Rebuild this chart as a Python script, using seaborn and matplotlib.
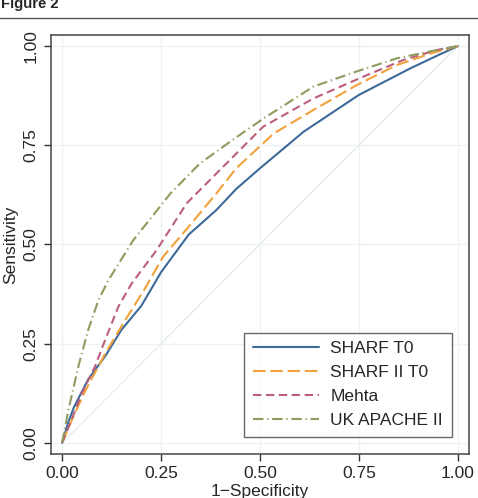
import pandas as pd
import matplotlib.pyplot as plt
import seaborn as sns

# ROC curves
models = ["SHARF T0", "SHARF II T0", "Mehta", "UK APACHE II"]

sharf_x = [0, 0.015, 0.03, 0.066, 0.11, 0.15, 0.20, 0.25, 0.32, 0.39, 0.44, 0.50, 0.61, 0.75, 0.88, 0.95, 1.0]
sharf_y = [0, 0.05, 0.09, 0.16, 0.22, 0.285, 0.345, 0.43, 0.525, 0.587, 0.64, 0.692, 0.784, 0.877, 0.944, 0.977, 1.0]

sharf2_x = [0, 0.03, 0.06, 0.11, 0.16, 0.21, 0.255, 0.32, 0.39, 0.44, 0.535, 0.635, 0.745, 0.845, 0.93, 1.0]
sharf2_y = [0, 0.07, 0.134, 0.227, 0.31, 0.39, 0.469, 0.545, 0.629, 0.692, 0.78, 0.839, 0.902, 0.952, 0.981, 1.0]

mehta_x = [0, 0.024, 0.05, 0.083, 0.109, 0.142, 0.176, 0.239, 0.315, 0.39, 0.433, 0.508, 0.635, 0.761, 0.862, 0.946, 1.0]
mehta_y = [0, 0.058, 0.125, 0.192, 0.26, 0.343, 0.402, 0.486, 0.604, 0.679, 0.722, 0.797, 0.868, 0.923, 0.965, 0.99, 1.0]

apache_x = [0, 0.016, 0.041, 0.066, 0.092, 0.117, 0.18, 0.247, 0.275, 0.348, 0.43, 0.508, 0.635, 0.744, 0.845, 0.946, 1.0]
apache_y = [0, 0.083, 0.192, 0.285, 0.36, 0.41, 0.511, 0.595, 0.63, 0.704, 0.763, 0.817, 0.898, 0.936, 0.969, 0.99, 1.0]

ticks = [0, 0.25, 0.5, 0.75, 1.0]
tick_labels = ["0.00", "0.25", "0.50", "0.75", "1.00"]

frames = []
for name, xs, ys in zip(models,
                        [sharf_x, sharf2_x, mehta_x, apache_x],
                        [sharf_y, sharf2_y, mehta_y, apache_y]):
    frames.append(pd.DataFrame({"fpr": xs, "tpr": ys, "model": name}))
df = pd.concat(frames, ignore_index=True)

colors = {"SHARF T0": "#3d6a99", "SHARF II T0": "#f2a23c",
          "Mehta": "#bd5f7a", "UK APACHE II": "#8d9c5e"}
dashes = {"SHARF T0": "", "SHARF II T0": (6, 2.3),
          "Mehta": (4, 2.2), "UK APACHE II": (5, 1.8, 0.6, 1.8)}

sns.set_style("white")
plt.rcParams["font.family"] = ["Liberation Sans", "DejaVu Sans"]

fig = plt.figure(figsize=(4.78, 4.98), dpi=100)
ax = fig.add_axes([0.1067, 0.0884, 0.8743, 0.8413])

ax.plot([0, 1], [0, 1], color="#e6ecee", lw=1.0, zorder=1)
sns.lineplot(data=df, x="fpr", y="tpr", hue="model", style="model",
             palette=colors, dashes=dashes, estimator=None, sort=False,
             lw=1.5, ax=ax, zorder=3)

ax.set_xlim(-0.028, 1.028)
ax.set_ylim(-0.028, 1.028)
ax.set_xticks(ticks)
ax.set_xticklabels(tick_labels)
ax.set_yticks(ticks)
ax.set_yticklabels(tick_labels, rotation=90, va="center")
ax.grid(True, color="#eef2f4", lw=1.0)
ax.set_axisbelow(True)
ax.tick_params(axis="both", which="both", direction="out", length=5, width=1,
               color="#333333", labelsize=12.5, pad=4, bottom=True, left=True)
for s in ax.spines.values():
    s.set_color("#444444")
    s.set_linewidth(1.1)
ax.set_xlabel("1\u2212Specificity", fontsize=12.5, labelpad=2)
ax.set_ylabel("Sensitivity", fontsize=12.5, labelpad=4)

leg = ax.legend(loc="lower right", fontsize=12.5, handlelength=3.8,
                frameon=True, fancybox=False, edgecolor="#444444",
                borderpad=0.5, labelspacing=0.5, handletextpad=0.65,
                borderaxespad=1.0)
leg.get_frame().set_linewidth(1.0)

fig.text(0.002, 0.983, "Figure 2", fontsize=10.7, weight="bold", va="baseline")
fig.add_artist(plt.Line2D([0, 1], [0.964, 0.964], color="#555555", lw=1.0,
                          transform=fig.transFigure))

fig.savefig("out.png", dpi=100)
